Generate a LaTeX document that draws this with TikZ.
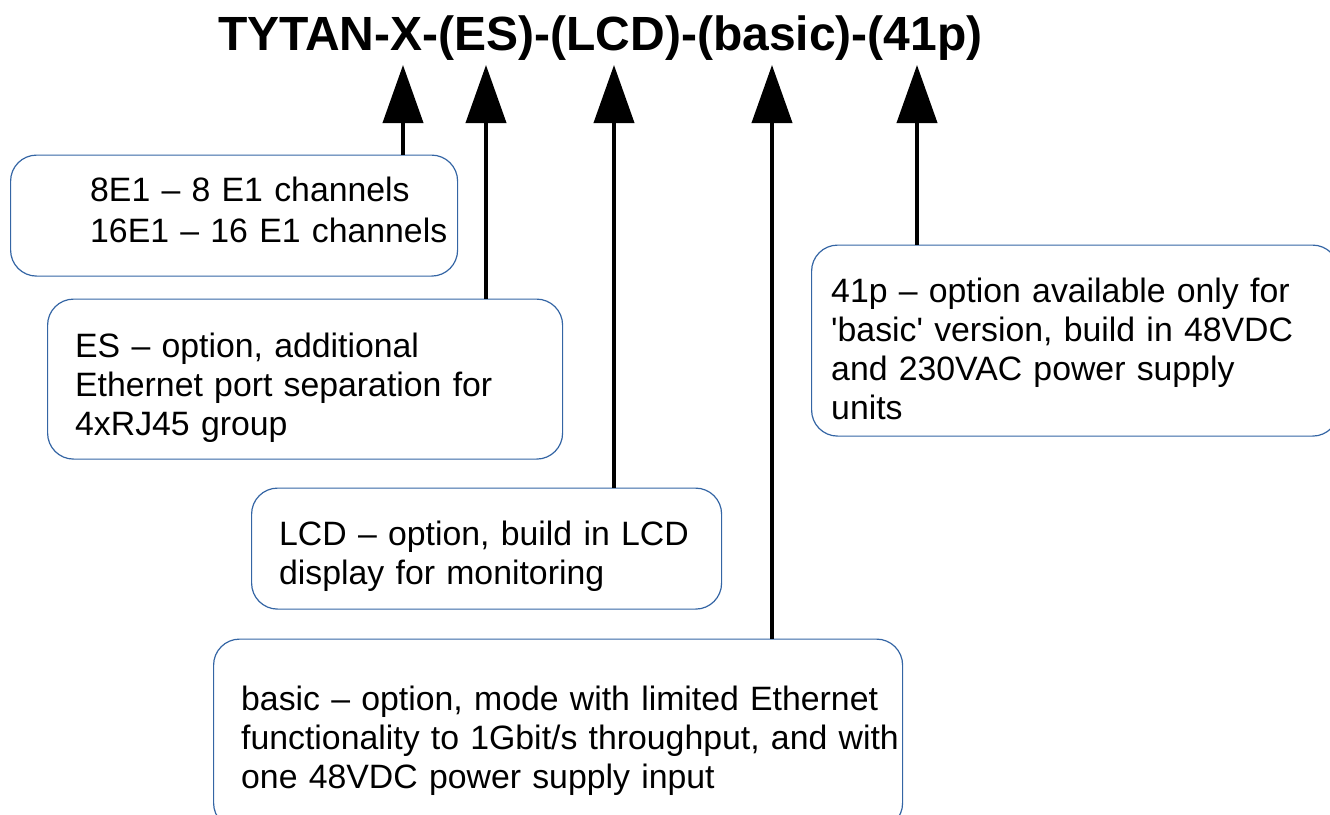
\documentclass[tikz,border=0pt]{standalone}
\usepackage{fontspec}
\setmainfont{Liberation Sans}
\usetikzlibrary{arrows.meta}
\definecolor{boxblue}{RGB}{52,101,164}

\begin{document}
\begin{tikzpicture}[x=1pt,y=-1pt,
    optbox/.style={draw=boxblue, line width=1.2pt, rounded corners=26pt, inner sep=0pt, anchor=north west},
    opttext/.style={anchor=base west, inner sep=0pt, text width=700pt, align=left,
      font=\fontsize{33.8}{39}\selectfont},
    optarrow/.style={line width=4pt, -{Triangle[length=58pt,width=40pt]}}]

      \useasboundingbox (0,0) rectangle (1330,814);
      \clip (0,0) rectangle (1330,814);

      \node[anchor=base west, inner sep=0pt, font=\bfseries\fontsize{48}{50}\selectfont] (title) at (218,50) {TYTAN-X-(ES)-(LCD)-(basic)-(41p)};

      % arrow tips under the title
      \coordinate (px)    at (403,65);
      \coordinate (pes)   at (486,65);
      \coordinate (plcd)  at (614,65);
      \coordinate (pbas)  at (772,65);
      \coordinate (p41)   at (917,65);

      \begin{scope}[every node/.style={optbox}]
        \node[minimum width=447pt, minimum height=121pt] (x)   at (10,154.5)  {};
        \node[minimum width=515pt, minimum height=160pt] (es)  at (47,298.5)  {};
        \node[minimum width=470pt, minimum height=121pt] (lcd) at (251,487.5) {};
        \node[minimum width=689pt, minimum height=190pt] (bas) at (213,638.5) {};
        \node[minimum width=527pt, minimum height=191pt] (o41) at (811,244.5) {};
      \end{scope}

      \begin{scope}[every node/.style={opttext}]
        \node[font=\fontsize{33.8}{40.5}\selectfont] (xtext) at (90,201.5)
          {8E1 – 8 E1 channels\\16E1 – 16 E1 channels};
        \node (estext)  at (75,357)  {ES – option, additional\\Ethernet port separation for\\4xRJ45 group};
        \node (lcdtext) at (279,545) {LCD – option, build in LCD\\display for monitoring};
        \node (bastext) at (241,710) {basic – option, mode with limited Ethernet\\functionality to 1Gbit/s throughput, and with\\one 48VDC power supply input};
        \node (o41text) at (831,302) {41p – option available only for\\\textquotesingle basic\textquotesingle{} version, build in 48VDC\\and 230VAC power supply\\units};
      \end{scope}

      \begin{scope}[every path/.style={optarrow}]
        \draw (x.north -| px)     -- (px);
        \draw (es.north -| pes)   -- (pes);
        \draw (lcd.north -| plcd) -- (plcd);
        \draw (bas.north -| pbas) -- (pbas);
        \draw (o41.north -| p41)  -- (p41);
      \end{scope}

    \end{tikzpicture}
\end{document}
